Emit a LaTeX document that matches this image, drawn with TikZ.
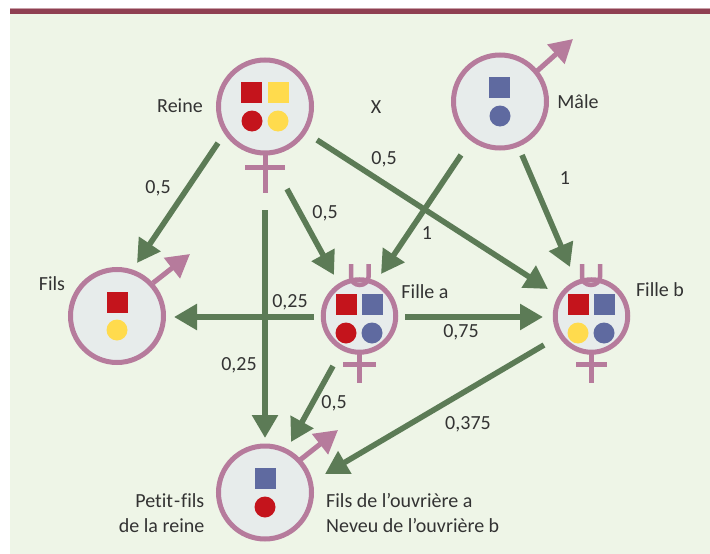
\documentclass[tikz,border=0pt]{standalone}
\usepackage{fontspec}
\setmainfont{Carlito}[Ligatures=NoCommon]
\usetikzlibrary{arrows.meta}
\definecolor{panel}{HTML}{EEF5E7}
\definecolor{barc}{HTML}{8F4052}
\definecolor{barl}{HTML}{C9A0A8}
\definecolor{mauve}{HTML}{B67B9C}
\definecolor{cellc}{HTML}{E7ECEB}
\definecolor{arrowc}{HTML}{5C7B56}
\definecolor{redc}{HTML}{C4141C}
\definecolor{yelc}{HTML}{FFDB4D}
\definecolor{bluc}{HTML}{5F6AA0}
\definecolor{txt}{HTML}{333333}
\tikzset{
  cellbig/.style={circle,draw=mauve,fill=cellc,line width=5pt,minimum size=93pt,inner sep=0pt},
  cellsmall/.style={circle,draw=mauve,fill=cellc,line width=5pt,minimum size=72.5pt,inner sep=0pt},
  gene/.style={arrowc,line width=5.6pt,-{Triangle[length=23pt,width=25pt]}},
  sym/.style={draw=mauve,line width=5pt},
  maleshaft/.style={mauve,line width=5pt,-{Triangle[length=23pt,width=25pt]}},
  lab/.style={inner sep=0pt,text=txt,font=\fontsize{20}{25}\selectfont},
  sq/.style={minimum size=21pt,inner sep=0pt,rectangle},
  dot/.style={minimum size=21pt,inner sep=0pt,circle},
}
\begin{document}
\begin{tikzpicture}[x=1pt,y=-1pt]
\useasboundingbox (0,0) rectangle (710,554);
\fill[panel] (10,13) rectangle (710,554);
\fill[barl] (10,8) rectangle (710,9.5);
\fill[barc] (10,9) rectangle (710,13.5);

% cross and horns
\draw[sym] (265,150) -- (265,192.5) (245,167) -- (285,167);
\draw[sym] (359.5,350) -- (359.5,383) (343,364) -- (376,364);
\draw[sym] (591.5,350) -- (591.5,383) (576,364) -- (607,364);

% male shafts
\coordinate (mA) at (536,72); \coordinate (mB) at (573,39);
\coordinate (fA) at (153,283); \coordinate (fB) at (190,254);
\coordinate (pA) at (300,460); \coordinate (pB) at (338,430);
\draw[maleshaft] (mA) -- (mB);
\draw[maleshaft] (fA) -- (fB);
\draw[maleshaft] (pA) -- (pB);

% cells
\node[cellbig] (reine) at (265,106.5) {};
\node[cellbig] (male) at (500,101.5) {};
\node[cellbig] (fils) at (117,316) {};
\node[cellbig] (petit) at (265,492.5) {};
\node[cellsmall] (fillea) at (359.5,316) {};
\node[cellsmall] (filleb) at (591.5,316) {};

% horns over small cells
\draw[sym,line width=4.5pt] (351,264) -- (351,277) arc[start angle=180,end angle=360,x radius=8.75pt,y radius=8pt] -- (368.5,264);
\draw[sym,line width=4.5pt] (582,264) -- (582,277) arc[start angle=180,end angle=360,x radius=9pt,y radius=8pt] -- (600,264);

% genes
\node[sq,fill=redc] (r1) at (251.5,92.5) {};
\node[sq,fill=yelc] (r2) at (278.5,92.5) {};
\node[dot,fill=redc] (r3) at (252,121) {};
\node[dot,fill=yelc] (r4) at (278,121) {};
\node[sq,fill=bluc] (m1) at (499.5,87.5) {};
\node[dot,fill=bluc] (m2) at (500,116) {};
\node[sq,fill=redc] (s1) at (117.5,302.5) {};
\node[dot,fill=yelc] (s2) at (117,330) {};
\node[sq,fill=bluc] (p1) at (265.5,478.5) {};
\node[dot,fill=redc] (p2) at (265,507) {};
\node[sq,fill=redc] (a1) at (346.5,304.5) {};
\node[sq,fill=bluc] (a2) at (372.5,304.5) {};
\node[dot,fill=redc] (a3) at (346,333) {};
\node[dot,fill=bluc] (a4) at (372,333) {};
\node[sq,fill=redc] (b1) at (578.5,304.5) {};
\node[sq,fill=bluc] (b2) at (604.5,304.5) {};
\node[dot,fill=yelc] (b3) at (578,333) {};
\node[dot,fill=bluc] (b4) at (604,333) {};

% connector ends
\coordinate (e1a) at (218,143);  \coordinate (e1b) at (137,263);
\coordinate (e2a) at (287,189);  \coordinate (e2b) at (334,275);
\coordinate (e3a) at (265,210);  \coordinate (e3b) at (265,438);
\coordinate (e4a) at (317,140);  \coordinate (e4b) at (548,289);
\coordinate (e5a) at (461,155);  \coordinate (e5b) at (381,274);
\coordinate (e6a) at (522,155);  \coordinate (e6b) at (570,267);
\coordinate (e7a) at (314,317);  \coordinate (e7b) at (174,317);
\coordinate (e8a) at (405,317);  \coordinate (e8b) at (543,317);
\coordinate (e9a) at (333,366);  \coordinate (e9b) at (291,442);
\coordinate (e10a) at (544,345); \coordinate (e10b) at (325,474);
\foreach \i in {1,...,10} \draw[gene] (e\i a) -- (e\i b);

% labels
\node[lab] (tReine) at (180,106) {Reine};
\node[lab] (tX) at (376,107) {X};
\node[lab] (tMale) at (578,102) {Mâle};
\node[lab] (t1) at (158,188) {0,5};
\node[lab] (t2) at (384,159) {0,5};
\node[lab] (t3) at (565,178) {1};
\node[lab] (t4) at (325,213) {0,5};
\node[lab] (t5) at (427,233) {1};
\node[lab] (tFils) at (52,284) {Fils};
\node[lab] (tA) at (425,292) {Fille a};
\node[lab] (tB) at (660,290) {Fille b};
\node[lab] (t6) at (290,302) {0,25};
\node[lab] (t7) at (461,332) {0,75};
\node[lab] (t8) at (239,365) {0,25};
\node[lab] (t9) at (334,403) {0,5};
\node[lab] (t10) at (468,424) {0,375};
\node[lab,align=right,anchor=east] (tP) at (204.5,513.5) {Petit\kern1pt-\kern1pt fils\\de la reine};
\node[lab,align=left,anchor=west] (tO) at (326,513.5) {Fils de l’ouvrière a\\Neveu de l’ouvrière b};
\end{tikzpicture}
\end{document}
